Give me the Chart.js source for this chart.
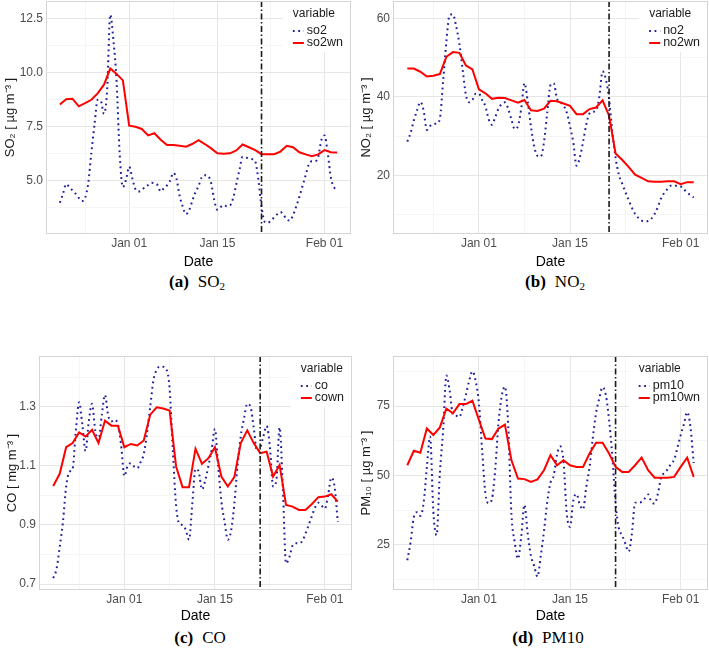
<!DOCTYPE html>
<html>
<head>
<meta charset="utf-8">
<script src="https://cdn.jsdelivr.net/npm/chart.js@4.4.1/dist/chart.umd.min.js"></script>
<style>
  html, body { margin: 0; padding: 0; background: #fff; }
  body { width: 709px; height: 649px; position: relative; overflow: hidden; }
  .panel { position: absolute; }
  .cap { position: absolute; width: 200px; height: 20px; line-height: 20px; text-align: center;
         font-family: "Liberation Serif", "Times New Roman", serif; font-size: 17px; color: #000; }
  .cap b { margin-right: 9px; }
  .cap sub { font-size: 11px; line-height: 0; vertical-align: -3px; }
</style>
</head>
<body>
<div class="panel" style="left:0;top:0;width:354px;height:272px"><canvas id="so2"></canvas></div>
<div class="panel" style="left:354px;top:0;width:355px;height:272px"><canvas id="no2"></canvas></div>
<div class="panel" style="left:0;top:330px;width:354px;height:296px"><canvas id="co"></canvas></div>
<div class="panel" style="left:354px;top:330px;width:355px;height:296px"><canvas id="pm10"></canvas></div>

<div class="cap" style="left:97px;top:272px"><b>(a)</b>SO<sub>2</sub></div>
<div class="cap" style="left:455px;top:272px"><b>(b)</b>NO<sub>2</sub></div>
<div class="cap" style="left:100px;top:628px"><b>(c)</b>CO</div>
<div class="cap" style="left:448px;top:628px"><b>(d)</b>PM10</div>

<script>
// days counted from Jan 01 (Dec 21 = -11 ... Feb 02 = 33)
const days = [];
for (let d = -11; d <= 33; d++) days.push(d);
// raw series are read twice a day
const halfDays = [];
for (let d = -11; d <= 33; d += 0.5) halfDays.push(d);

const xTickDays = [0, 14, 31];
const xTickLabels = ['Jan 01', 'Jan 15', 'Feb 01'];
const xMinorDays = [-7, 7, 22.5];

// SO2
const so2 = [3.98, 4.4, 4.85, 4.7, 4.55, 4.4, 4.2, 4.06, 4.2, 4.88,
  6.3, 7.6, 8.75, 8.7, 8.1, 9.2, 12.7, 11.5, 9.6, 6.2,
  4.7, 5.05, 5.65, 5.1, 4.6, 4.5, 4.55, 4.72, 4.8, 4.9,
  4.88, 4.8, 4.5, 4.65, 4.78, 5.0, 5.36, 5.1, 4.3, 3.8,
  3.45, 3.62, 4.05, 4.45, 4.75, 5.15, 5.25, 5.22, 4.9, 4.1,
  3.65, 3.78, 3.87, 3.82, 3.85, 4.2, 4.85, 5.5, 6.11, 6.08,
  6.03, 6.0, 5.9, 5.05, 3.8, 3.1, 3.05, 3.15, 3.3, 3.45,
  3.55, 3.42, 3.2, 3.15, 3.4, 3.8, 4.25, 4.75, 5.25, 5.75,
  5.9, 5.9, 6.1, 6.88, 7.1, 6.3, 5.15, 4.7, 4.55];
const so2wn = [8.53, 8.78, 8.8, 8.45, 8.6, 8.75, 9.05, 9.45, 10.2, 9.95,
  9.65, 7.55, 7.5, 7.4, 7.1, 7.2, 6.9, 6.65, 6.65, 6.62,
  6.58, 6.7, 6.88, 6.7, 6.5, 6.27, 6.25, 6.27, 6.4, 6.68,
  6.55, 6.42, 6.23, 6.23, 6.23, 6.35, 6.62, 6.55, 6.32, 6.22,
  6.14, 6.22, 6.42, 6.32, 6.31];
const so2YTicks = [5, 7.5, 10, 12.5];
const so2YLabels = ['5.0', '7.5', '10.0', '12.5'];
const so2YMinor = [3.75, 6.25, 8.75, 11.25];

// NO2
const no2 = [28.6, 30.8, 34, 36.6, 38.7, 36.6, 31.6, 32.6, 33.1, 33.2,
  34.5, 44, 54, 60.8, 61, 58, 53.5, 47, 40.5, 38.6,
  39.2, 40.8, 40.8, 39.2, 37.6, 34.3, 32.9, 34.8, 37, 38.2,
  38.6, 37, 34.2, 31.8, 32.6, 37, 43.5, 38.8, 32.4, 27.3,
  25, 24.8, 28.5, 36, 43, 43.5, 39.5, 38.7, 37.8, 36,
  32.5, 28.5, 22.5, 24.5, 28.5, 33, 35.8, 36.2, 36.5, 40,
  46.5, 44.5, 39.5, 31, 24.5, 20.2, 18, 15.8, 13.8, 11.8,
  10.2, 9.2, 8.5, 8.3, 8.4, 9, 10.2, 12, 14.2, 15.6,
  16.6, 17.4, 17.5, 17.3, 17.2, 16.5, 15.6, 15, 14.4];
const no2wn = [47.2, 47.2, 46.4, 45.2, 45.4, 45.8, 50.2, 51.4, 51.2, 48,
  47, 41.9, 40.9, 39.5, 39.8, 39.7, 39.1, 38.5, 39.2, 36.6,
  36.4, 37, 39, 38.9, 38.3, 37.7, 35.6, 35.6, 36.9, 37.3,
  39.1, 35.2, 25.6, 24, 22.2, 20.2, 19.4, 18.5, 18.4, 18.4,
  18.5, 18.5, 17.8, 18.3, 18.3];
const no2YTicks = [20, 40, 60];
const no2YLabels = ['20', '40', '60'];
const no2YMinor = [10, 30, 50];

// CO
const co = [0.72, 0.75, 0.825, 0.91, 1.03, 1.08, 1.09, 1.22, 1.315, 1.24,
  1.15, 1.25, 1.31, 1.22, 1.185, 1.27, 1.34, 1.27, 1.25, 1.256,
  1.24, 1.17, 1.065, 1.1, 1.109, 1.098, 1.092, 1.112, 1.14, 1.21,
  1.30, 1.39, 1.425, 1.436, 1.435, 1.427, 1.36, 1.15, 0.965, 0.905,
  0.9, 0.883, 0.85, 0.97, 1.09, 1.08, 1.02, 1.05, 1.10, 1.154,
  1.225, 1.1, 0.98, 0.91, 0.85, 0.88, 0.97, 1.1, 1.2, 1.26,
  1.31, 1.30, 1.23, 1.15, 1.16, 1.2, 1.235, 1.165, 1.03, 1.05,
  1.23, 1.03, 0.77, 0.79, 0.83, 0.838, 0.838, 0.845, 0.87, 0.9,
  0.93, 0.96, 0.975, 0.965, 0.955, 1.0, 1.06, 1.03, 0.91];
const cown = [1.032, 1.073, 1.163, 1.177, 1.213, 1.199, 1.222, 1.177, 1.253, 1.236,
  1.236, 1.163, 1.174, 1.169, 1.186, 1.273, 1.298, 1.294, 1.287, 1.098,
  1.028, 1.028, 1.158, 1.107, 1.126, 1.163, 1.064, 1.03, 1.062, 1.177,
  1.22, 1.177, 1.143, 1.148, 1.064, 1.103, 0.968, 0.962, 0.951, 0.951,
  0.971, 0.994, 0.996, 1.004, 0.979];
const coYTicks = [0.7, 0.9, 1.1, 1.3];
const coYLabels = ['0.7', '0.9', '1.1', '1.3'];
const coYMinor = [0.8, 1.0, 1.2, 1.4];

// PM10
const pm10 = [19.5, 26, 35, 36.8, 35.5, 40, 53, 64, 37, 28.5,
  51, 66, 86, 80.7, 72, 71.5, 71, 74.5, 79, 84,
  87.5, 84, 76, 59, 43.5, 40, 41.5, 52, 68.7, 78.5,
  82, 68, 36, 26, 20, 28, 39.5, 29, 21, 17.4,
  13.6, 21, 30, 40.5, 47.5, 50, 57.5, 60.5, 55, 36.3,
  31.5, 41, 43.3, 39.5, 37.8, 46, 53, 63.5, 72.5, 77.8,
  81.8, 79, 70, 57, 40, 31, 28.5, 25.5, 22.6, 29,
  40.2, 40.2, 40.5, 41.8, 43.2, 40.5, 39.9, 43.5, 49.3, 51,
  52.2, 54.2, 55.7, 60, 64.5, 68.5, 72.8, 67.5, 54.5];
const pm10wn = [53.7, 58.9, 58.2, 66.9, 64.6, 67.3, 74.1, 72.4, 75.7, 75.7,
  76.9, 70, 63.3, 63.1, 66.9, 68.3, 55.5, 48.9, 48.7, 47.7,
  48.6, 51.9, 57.3, 53.7, 55.5, 53.7, 53.1, 53.1, 57.9, 61.8,
  61.8, 57.9, 53.1, 51.3, 51.3, 53.7, 56.5, 51.9, 49.2, 49.2,
  49.2, 49.5, 53.1, 56.4, 49.5];
const pm10YTicks = [25, 50, 75];
const pm10YLabels = ['25', '50', '75'];
const pm10YMinor = [12.5, 37.5, 62.5, 87.5];

const FONT = '"Liberation Sans", Arial, sans-serif';
Chart.defaults.font.family = FONT;
Chart.defaults.animation = false;

const BLUE = '#1f1f9e';
const RED = '#ff0000';
const dots = [1.8, 3.6];

// panel border, break line and the inside legend
const panelDecor = {
  id: 'panelDecor',
  afterDatasetsDraw(chart, args, o) {
    const {ctx, chartArea: a} = chart;
    const bx = chart.scales.x.getPixelForValue(o.breakDay);
    ctx.save();
    ctx.strokeStyle = '#1a1a1a';
    ctx.lineWidth = 1.6;
    ctx.setLineDash([6, 2.5, 1.5, 2.5]);
    ctx.beginPath();
    ctx.moveTo(bx, a.top);
    ctx.lineTo(bx, a.bottom);
    ctx.stroke();
    ctx.restore();
  },
  afterDraw(chart, args, o) {
    const {ctx, chartArea: a} = chart;
    ctx.save();
    ctx.font = '12px ' + FONT;
    const titleW = ctx.measureText('variable').width;
    ctx.font = '12.5px ' + FONT;
    const labW = Math.max(...o.names.map(n => ctx.measureText(n).width));
    const lx = a.right - 8 - Math.max(titleW, 14 + labW);

    ctx.fillStyle = '#fff';
    ctx.fillRect(lx - 10, a.top + 1, a.right - 1 - (lx - 10), 50);

    ctx.fillStyle = '#1a1a1a';
    ctx.textBaseline = 'middle';
    ctx.textAlign = 'left';
    ctx.font = '12px ' + FONT;
    ctx.fillText('variable', lx, a.top + 13);
    ctx.font = '12.5px ' + FONT;

    // dotted raw series
    ctx.strokeStyle = BLUE;
    ctx.lineWidth = 2;
    ctx.setLineDash(dots);
    ctx.beginPath();
    ctx.moveTo(lx, a.top + 30);
    ctx.lineTo(lx + 11, a.top + 30);
    ctx.stroke();
    ctx.fillText(o.names[0], lx + 14, a.top + 30);

    // weather normalised series
    ctx.strokeStyle = RED;
    ctx.setLineDash([]);
    ctx.beginPath();
    ctx.moveTo(lx, a.top + 42);
    ctx.lineTo(lx + 11, a.top + 42);
    ctx.stroke();
    ctx.fillText(o.names[1], lx + 14, a.top + 42);

    ctx.strokeStyle = '#d4d4d4';
    ctx.lineWidth = 1;
    ctx.strokeRect(a.left + 0.5, a.top + 0.5, a.right - a.left - 1, a.bottom - a.top - 1);
    ctx.restore();
  }
};

function drawPanel(id, p) {
  new Chart(document.getElementById(id), {
    type: 'line',
    data: {
      datasets: [
        {
          label: p.names[1],
          data: days.map((d, i) => ({x: d, y: p.red[i]})),
          borderColor: RED,
          borderWidth: 2,
          pointRadius: 0,
          order: 0
        },
        {
          label: p.names[0],
          data: halfDays.map((d, i) => ({x: d, y: p.blue[i]})),
          borderColor: BLUE,
          borderWidth: 2,
          borderDash: dots,
          borderCapStyle: 'butt',
          cubicInterpolationMode: 'monotone',
          pointRadius: 0,
          order: 1
        }
      ]
    },
    options: {
      responsive: true,
      maintainAspectRatio: false,
      animation: false,
      layout: {padding: {top: p.padTop, right: p.padRight, left: 0, bottom: 0}},
      plugins: {
        legend: {display: false},
        tooltip: {enabled: false},
        panelDecor: {breakDay: p.breakDay, names: p.names}
      },
      scales: {
        x: {
          type: 'linear',
          min: -13.2,
          max: 35.2,
          afterBuildTicks: s => {
            s.ticks = xMinorDays.concat(xTickDays).sort((a, b) => a - b).map(v => ({value: v}));
          },
          afterFit: s => {
            s.height = p.xHeight;
            s.paddingLeft = 0;
            s.paddingRight = 0;
          },
          ticks: {
            autoSkip: false,
            maxRotation: 0,
            padding: 2,
            color: '#4d4d4d',
            font: {size: 12},
            callback: v => {
              const i = xTickDays.indexOf(v);
              return i < 0 ? '' : xTickLabels[i];
            }
          },
          grid: {
            drawTicks: false,
            color: c => xTickDays.includes(c.tick.value) ? '#e6e6e6' : '#f2f2f2',
            lineWidth: c => xTickDays.includes(c.tick.value) ? 1 : 0.8
          },
          border: {display: false},
          title: {display: true, text: 'Date', color: '#000', font: {size: 14}, padding: {top: 0, bottom: 1}}
        },
        y: {
          min: p.yMin,
          max: p.yMax,
          afterBuildTicks: s => {
            s.ticks = p.yMinor.concat(p.yTicks).sort((a, b) => a - b).map(v => ({value: v}));
          },
          afterFit: s => {
            s.width = p.yWidth;
            s.paddingTop = 0;
            s.paddingBottom = 0;
          },
          ticks: {
            padding: 3,
            color: '#4d4d4d',
            font: {size: 12},
            callback: v => {
              const i = p.yTicks.indexOf(v);
              return i < 0 ? '' : p.yLabels[i];
            }
          },
          grid: {
            drawTicks: false,
            color: c => p.yTicks.includes(c.tick.value) ? '#e6e6e6' : '#f2f2f2',
            lineWidth: c => p.yTicks.includes(c.tick.value) ? 1 : 0.8
          },
          border: {display: false},
          title: {display: true, text: p.yTitle, color: '#1a1a1a', font: {size: 13}, padding: {top: p.titlePad, bottom: 0}}
        }
      }
    },
    plugins: [panelDecor]
  });
}

drawPanel('so2', {
  names: ['so2', 'so2wn'], blue: so2, red: so2wn, breakDay: 21,
  yMin: 2.53, yMax: 13.33, yTicks: so2YTicks, yLabels: so2YLabels, yMinor: so2YMinor,
  yTitle: 'SO₂ [ µg m⁻³ ]', padTop: 1, padRight: 3, yWidth: 46, xHeight: 38, titlePad: 2.2
});
drawPanel('no2', {
  names: ['no2', 'no2wn'], blue: no2, red: no2wn, breakDay: 20,
  yMin: 5.1, yMax: 64.4, yTicks: no2YTicks, yLabels: no2YLabels, yMinor: no2YMinor,
  yTitle: 'NO₂ [ µg m⁻³ ]', padTop: 1, padRight: 1, yWidth: 39, xHeight: 38, titlePad: 5
});
drawPanel('co', {
  names: ['co', 'cown'], blue: co, red: cown, breakDay: 21,
  yMin: 0.68, yMax: 1.4716, yTicks: coYTicks, yLabels: coYLabels, yMinor: coYMinor,
  yTitle: 'CO [ mg m⁻³ ]', padTop: 26, padRight: 2, yWidth: 39, xHeight: 36, titlePad: 4.7
});
drawPanel('pm10', {
  names: ['pm10', 'pm10wn'], blue: pm10, red: pm10wn, breakDay: 21,
  yMin: 8.8, yMax: 93, yTicks: pm10YTicks, yLabels: pm10YLabels, yMinor: pm10YMinor,
  yTitle: 'PM₁₀ [ µg m⁻³ ]', padTop: 26, padRight: 1, yWidth: 39, xHeight: 36, titlePad: 4.7
});
</script>
</body>
</html>
